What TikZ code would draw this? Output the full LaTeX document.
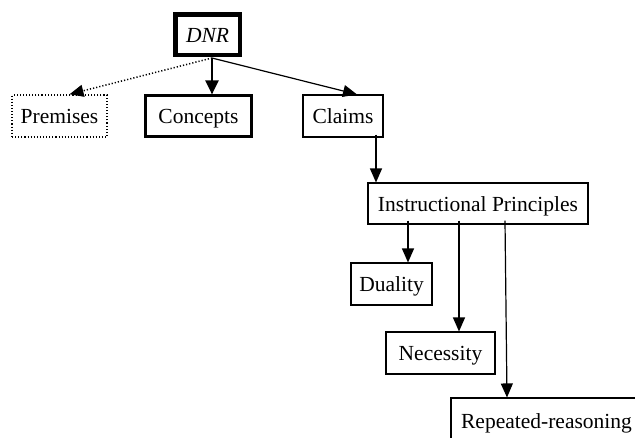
\documentclass[tikz,border=0pt]{standalone}
\usepackage{fontspec}
\setmainfont{Liberation Serif}
\usetikzlibrary{arrows.meta}
\tikzset{
  box/.style={draw=black, line width=1.1pt, rectangle, inner sep=0pt,
    font=\fontsize{21.5}{24}\selectfont, text height=15pt, text depth=0pt},
  conn/.style={line width=1.2pt, -{Triangle[length=14pt,width=12pt]}},
}
\begin{document}
\begin{tikzpicture}[x=1pt,y=-1pt]
\useasboundingbox (0,0) rectangle (635,437);
\fill[white] (0,0) rectangle (635,437);
\clip (0,0) rectangle (635,437);
\node[box, line width=4.5pt, minimum width=64.5pt, minimum height=40.5pt] (dnr) at (207.5,34.5) {\itshape DNR};
\node[box, dotted, line width=1.4pt, minimum width=95pt, minimum height=42pt] (prem) at (59.5,116) {Premises};
\node[box, line width=2.2pt, minimum width=106pt, minimum height=41pt] (conc) at (198.5,116) {Concepts};
\node[box, minimum width=80pt, minimum height=42pt] (claims) at (343,116) {Claims};
\node[box, minimum width=220pt, minimum height=41pt] (ip) at (478,203.5) {Instructional Principles};
\node[box, minimum width=81pt, minimum height=42pt] (dual) at (391.5,284) {Duality};
\node[box, minimum width=109pt, minimum height=42pt] (nec) at (440.5,353) {Necessity};
\node[box, minimum width=191pt, minimum height=46pt] (rep) at (546.5,421) {Repeated-reasoning};
\coordinate (o) at (212,58);
\draw[conn, line width=2.2pt, -{Triangle[length=14pt,width=13pt]}] (o) -- (o |- conc.north);
\draw[conn, dotted, line width=1.5pt] (o) -- ([xshift=10pt]prem.north);
\draw[conn] (o) -- ([xshift=14pt]claims.north);
\draw[conn] ([xshift=33pt,yshift=3pt]claims.south) -- ([xshift=33pt]claims.south |- ip.north);
\draw[conn] ([xshift=-70pt,yshift=4pt]ip.south) -- ([xshift=-70pt]ip.south |- dual.north);
\draw[conn] ([xshift=-19pt,yshift=4pt]ip.south) -- ([xshift=-19pt]ip.south |- nec.north);
\draw[conn] ([xshift=27pt,yshift=4pt]ip.south) -- ([xshift=29pt]ip.south |- rep.north);
\end{tikzpicture}
\end{document}
